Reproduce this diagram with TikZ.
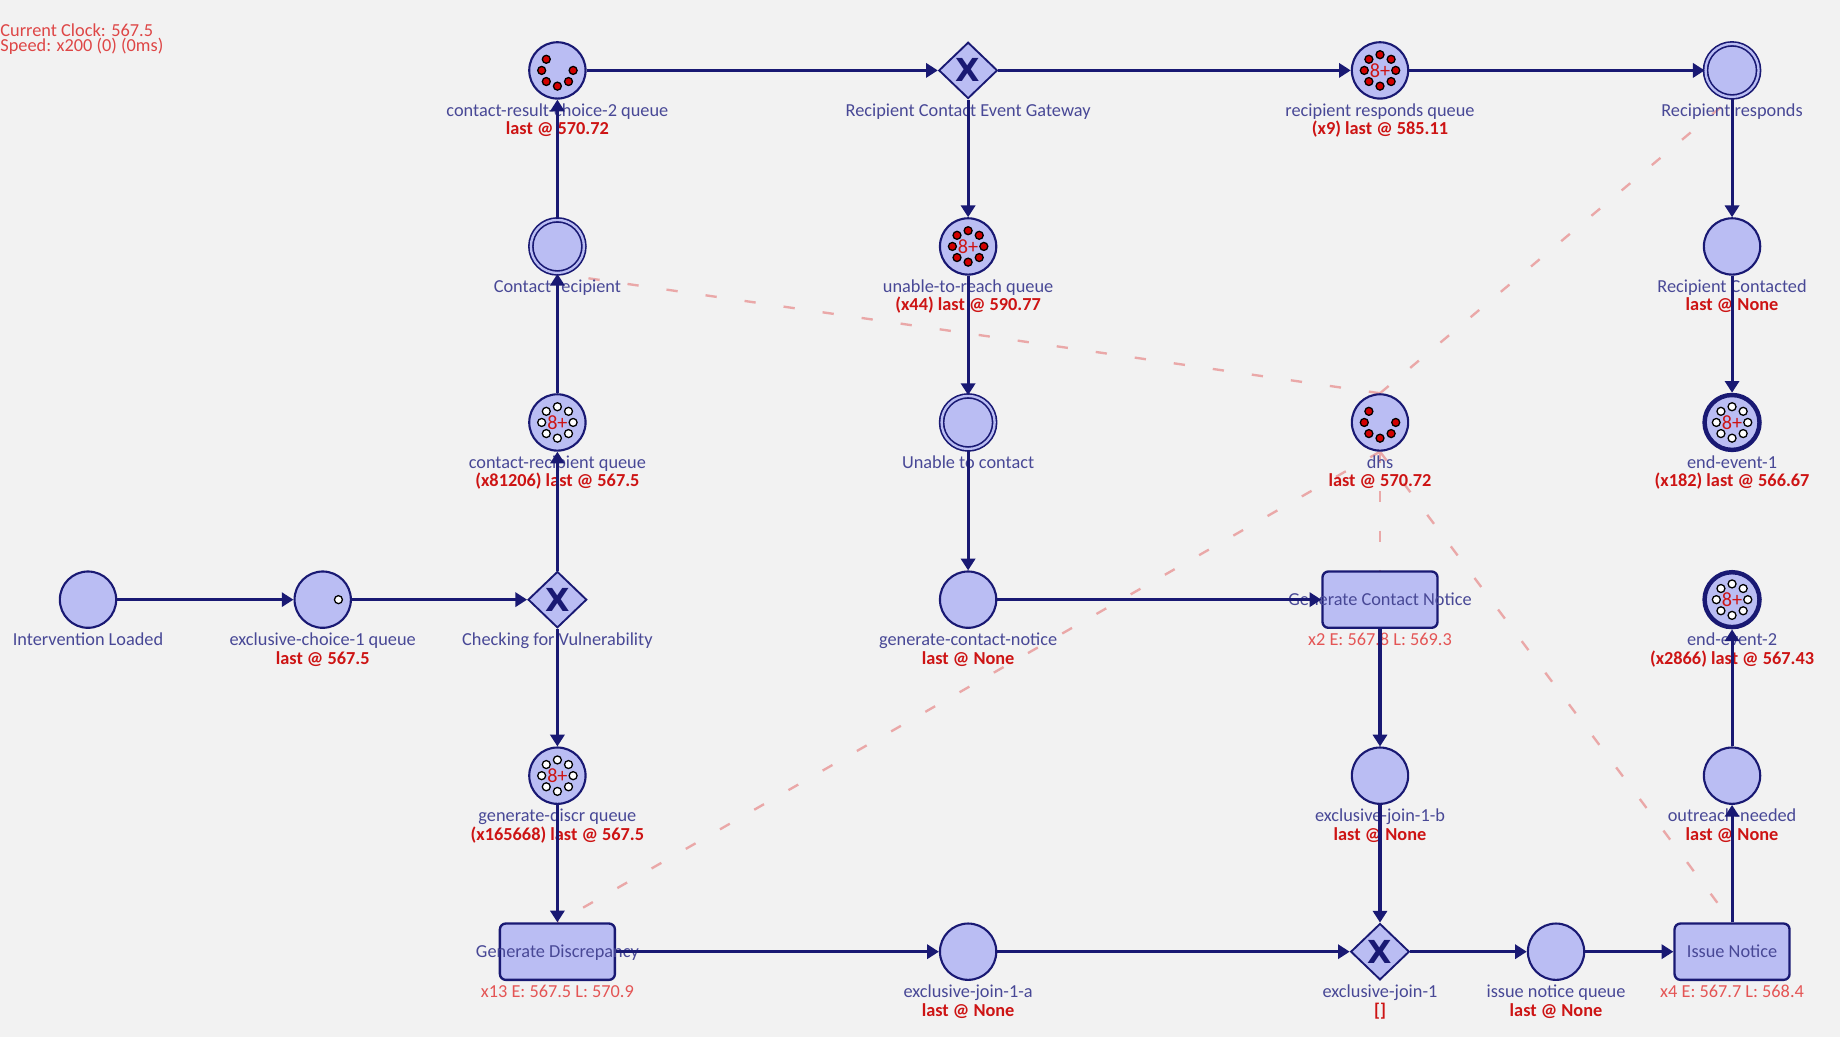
\documentclass[tikz,border=0pt]{standalone}
\usepackage{fontspec}
\setmainfont{Carlito}
\newfontfamily\xfont{DejaVu Sans}
\usetikzlibrary{shapes.geometric,arrows.meta,calc,backgrounds}
\definecolor{bgc}{RGB}{242,242,242}
\definecolor{navy}{RGB}{25,25,115}
\definecolor{fillc}{RGB}{186,189,243}
\definecolor{lblc}{RGB}{72,72,150}
\definecolor{statc}{RGB}{205,20,20}
\definecolor{taskstat}{RGB}{228,85,85}
\definecolor{dashc}{RGB}{234,168,168}
\definecolor{tokred}{RGB}{210,0,0}
\definecolor{clockc}{RGB}{222,70,70}
\tikzset{
  place/.style={circle, draw=navy, fill=fillc, line width=0.9pt, minimum size=24pt, inner sep=0pt},
  dplace/.style={circle, draw=navy, fill=fillc, line width=0.7pt, double=fillc, double distance=1pt, minimum size=22.6pt, inner sep=0pt},
  endev/.style={place, line width=1.9pt, minimum size=23.4pt},
  gate/.style={diamond, draw=navy, fill=fillc, line width=0.8pt, minimum width=25pt, minimum height=24pt, inner sep=0pt},
  gx/.style={text=navy, font=\xfont\bfseries\fontsize{13.5}{13.5}\selectfont, inner sep=0pt},
  task/.style={rectangle, rounded corners=2.5pt, draw=navy, fill=fillc, line width=1pt, minimum width=49pt, minimum height=24pt, inner sep=0pt},
  nm/.style={anchor=base, text=lblc, font=\fontsize{7.8}{8}\selectfont, inner sep=0pt},
  st/.style={anchor=base, text=statc, font=\bfseries\fontsize{7.8}{8}\selectfont, inner sep=0pt},
  tst/.style={anchor=base, text=taskstat, font=\fontsize{7.8}{8}\selectfont, inner sep=0pt},
  eightplus/.style={text=statc, font=\fontsize{8.6}{8.6}\selectfont, inner sep=0pt},
  arr/.style={draw=navy, line width=1.3pt, -{Triangle[length=5pt,width=6pt]}},
  assoc/.style={draw=dashc, line width=1pt, dash pattern=on 4.8pt off 12pt},
  tok/.style={circle, draw=black, line width=0.55pt, minimum size=3.4pt, inner sep=0pt},
}
\newcommand\mylbl[3]{\node[nm] at ($(#1)+(0,39)$) {#2};\node[st] at ($(#1)+(0,55)$) {#3};}
\newcommand\myname[2]{\node[nm] at ($(#1)+(0,39)$) {#2};}
\newcommand\mytoks[3]{\foreach \tk in {1,...,#2} {\node[tok, fill=#3] at ($(#1)+({-(\tk-1)*45}:6.7pt)$) {};}}
\newcommand\myeight[2]{\mytoks{#1}{8}{#2}\node[eightplus] at (#1) {8+};}
\begin{document}
\begin{tikzpicture}[x=0.5pt,y=-0.5pt]
\useasboundingbox (0,0) rectangle (1568,884);
% nodes
\node[place] (crcq) at (475,60) {};
\node[gate] (rceg) at (825,60) {};
\node[place] (rrq) at (1176,60) {};
\node[dplace] (rr) at (1476,60) {};
\node[dplace] (cr) at (475,210) {};
\node[place] (utrq) at (825,210) {};
\node[place] (rc) at (1476,210) {};
\node[place] (crq) at (475,360) {};
\node[dplace] (utc) at (825,360) {};
\node[place] (dhs) at (1176,360) {};
\node[endev] (ee1) at (1476,360) {};
\node[place] (il) at (75,511) {};
\node[place] (ec1q) at (275,511) {};
\node[gate] (cfv) at (475,511) {};
\node[place] (gcnq) at (825,511) {};
\node[task] (gcn) at (1176,511) {};
\node[endev] (ee2) at (1476,511) {};
\node[place] (gdq) at (475,661) {};
\node[place] (ej1b) at (1176,661) {};
\node[place] (on) at (1476,661) {};
\node[task] (gd) at (475,811) {};
\node[place] (ej1a) at (825,811) {};
\node[gate] (ej1) at (1176,811) {};
\node[place] (inq) at (1326,811) {};
\node[task] (isn) at (1476,811) {};
% background and association lines
\begin{pgfonlayer}{background}
\fill[bgc] (0,0) rectangle (1568,884);
\draw[assoc] (dhs.north) -- (cr.south);
\draw[assoc] (dhs.north) -- (rr.south);
\draw[assoc] (dhs.south) -- (gd.north);
\draw[assoc] (dhs.south) -- (gcn.north);
\draw[assoc] (dhs.south) -- (isn.north);
\end{pgfonlayer}
% gateway marks
\node[gx] (rcegx) at (rceg) {X};
\node[gx] (cfvx) at (cfv) {X};
\node[gx] (ej1x) at (ej1) {X};
% tokens
\mytoks{crcq}{6}{tokred}
\myeight{rrq}{tokred}
\myeight{utrq}{tokred}
\myeight{crq}{white}
\mytoks{dhs}{6}{tokred}
\myeight{ee1}{white}
\mytoks{ec1q}{1}{white}
\myeight{ee2}{white}
\myeight{gdq}{white}
% labels
\node[anchor=base west, text=clockc, font=\fontsize{7.8}{8}\selectfont, inner sep=0pt] (clk) at (0,31) {Current Clock: 567.5};
\node[anchor=base west, text=clockc, font=\fontsize{7.8}{8}\selectfont, inner sep=0pt] (spd) at (0,44) {Speed: x200 (0) (0ms)};
\mylbl{crcq}{contact-result-choice-2 queue}{last @ 570.72}
\myname{rceg}{Recipient Contact Event Gateway}
\mylbl{rrq}{recipient responds queue}{(x9) last @ 585.11}
\myname{rr}{Recipient responds}
\myname{cr}{Contact recipient}
\mylbl{utrq}{unable-to-reach queue}{(x44) last @ 590.77}
\mylbl{rc}{Recipient Contacted}{last @ None}
\mylbl{crq}{contact-recipient queue}{(x81206) last @ 567.5}
\myname{utc}{Unable to contact}
\mylbl{dhs}{dhs}{last @ 570.72}
\mylbl{ee1}{end-event-1}{(x182) last @ 566.67}
\myname{il}{Intervention Loaded}
\mylbl{ec1q}{exclusive-choice-1 queue}{last @ 567.5}
\myname{cfv}{Checking for Vulnerability}
\mylbl{gcnq}{generate-contact-notice}{last @ None}
\node[nm] (gcnt) at ($(gcn)+(0,5)$) {Generate Contact Notice};
\node[tst] (gcns) at ($(gcn)+(0,39)$) {x2 E: 567.8 L: 569.3};
\mylbl{ee2}{end-event-2}{(x2866) last @ 567.43}
\mylbl{gdq}{generate-discr queue}{(x165668) last @ 567.5}
\mylbl{ej1b}{exclusive-join-1-b}{last @ None}
\mylbl{on}{outreach-needed}{last @ None}
\node[nm] (gdt) at ($(gd)+(0,5)$) {Generate Discrepancy};
\node[tst] (gds) at ($(gd)+(0,39)$) {x13 E: 567.5 L: 570.9};
\mylbl{ej1a}{exclusive-join-1-a}{last @ None}
\mylbl{ej1}{exclusive-join-1}{[]}
\mylbl{inq}{issue notice queue}{last @ None}
\node[nm] (isnt) at ($(isn)+(0,5)$) {Issue Notice};
\node[tst] (isns) at ($(isn)+(0,39)$) {x4 E: 567.7 L: 568.4};
% edges
\draw[arr] (il) -- (ec1q);
\draw[arr] (ec1q) -- (cfv);
\draw[arr] (cfv) -- (crq);
\draw[arr] (cfv) -- (gdq);
\draw[arr] (crq) -- (cr);
\draw[arr] (cr) -- (crcq);
\draw[arr] (crcq) -- (rceg);
\draw[arr] (rceg) -- (rrq);
\draw[arr] (rrq) -- (rr);
\draw[arr] (rceg) -- (utrq);
\draw[arr] (utrq) -- (utc);
\draw[arr] (utc) -- (gcnq);
\draw[arr] (gcnq) -- (gcn);
\draw[arr] (gcn) -- (ej1b);
\draw[arr] (ej1b) -- (ej1);
\draw[arr] (gdq) -- (gd);
\draw[arr] (gd) -- (ej1a);
\draw[arr] (ej1a) -- (ej1);
\draw[arr] (ej1) -- (inq);
\draw[arr] (inq) -- (isn);
\draw[arr] (isn) -- (on);
\draw[arr] (on) -- (ee2);
\draw[arr] (rr) -- (rc);
\draw[arr] (rc) -- (ee1);
\end{tikzpicture}
\end{document}
